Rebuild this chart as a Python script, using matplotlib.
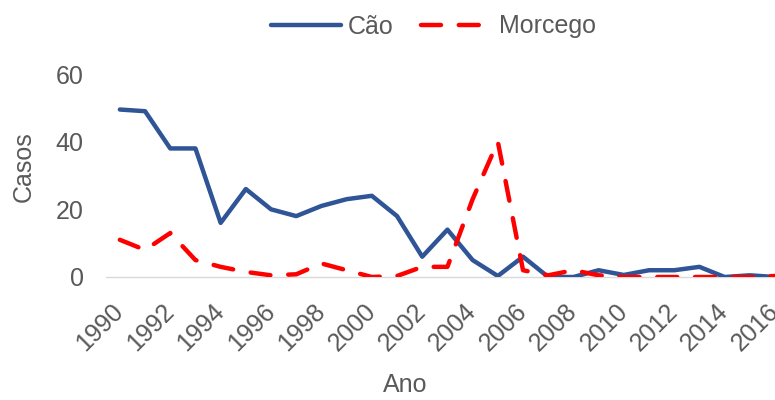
import matplotlib.pyplot as plt

plt.rcParams['font.family'] = ['Liberation Sans', 'DejaVu Sans']

anos = list(range(1990, 2017))
cao = [49.5, 49, 38, 38, 16, 26, 20, 18, 21, 23, 24, 18, 6, 14, 5, 0.3,
       6, 0, 0, 2, 0.6, 2, 2, 3, 0, 0.5, 0]
morcego = [11, 8, 13, 5, 3, 1.5, 0.5, 0.8, 4, 2, 0, 0.3, 3, 3, 23, 40,
           2, 0.5, 2, 0.5, 0, 0, 0, 0, 0, 0, 0.3]
ticks_x = list(range(1990, 2017, 2))
ticks_y = [0, 20, 40, 60]

cinza = '#595959'

fig = plt.figure(figsize=(7.75, 4), dpi=100)
ax = fig.add_axes([106 / 775, 0.3075, 1 - 106 / 775, 0.5075])

ax.plot(anos, cao, color='#2F5597', lw=3.2, solid_capstyle='round',
        solid_joinstyle='round', label='Cão')
ax.plot(anos, morcego, color='#FF0000', lw=3.2, dashes=(4.5, 4),
        dash_capstyle='round', dash_joinstyle='round', label='Morcego')

ax.set_xlim(1989.45, 2016.0)
ax.set_ylim(0, 60)
ax.set_xticks(ticks_x)
ax.set_yticks(ticks_y)
ax.set_xticklabels([str(a) for a in ticks_x], rotation=45, ha='right',
                   rotation_mode='anchor', va='center')
ax.tick_params(axis='both', length=0, labelsize=18, labelcolor=cinza)
ax.tick_params(axis='y', pad=16)
ax.tick_params(axis='x', pad=22)

for s in ['top', 'right', 'left']:
    ax.spines[s].set_visible(False)
ax.spines['bottom'].set_color('#D9D9D9')
ax.spines['bottom'].set_linewidth(1)
ax.spines['bottom'].set_zorder(0)

fig.text(405 / 775, 1 - 385 / 400, 'Ano', fontsize=18, color=cinza,
         ha='center', va='center')
fig.text(24 / 775, 1 - 167 / 400, 'Casos', fontsize=18, color=cinza,
         ha='center', va='center', rotation=90)

fig.legend(loc='upper center', bbox_to_anchor=(0.559, 1.02), ncol=2,
           frameon=False, fontsize=18, labelcolor=cinza, handlelength=2.8,
           handletextpad=0.3, columnspacing=1.1)

fig.savefig('out.png', dpi=100)
